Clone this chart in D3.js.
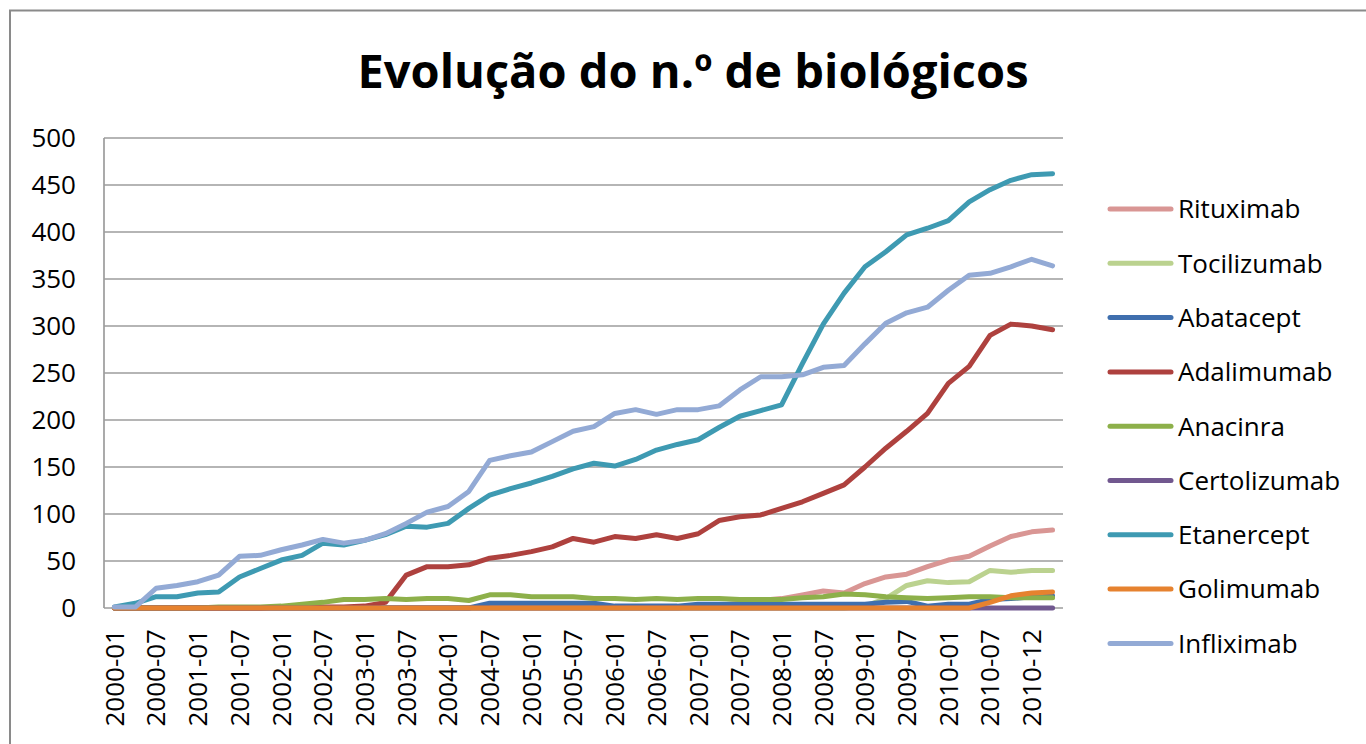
<!DOCTYPE html>
<meta charset="utf-8">
<style>
body { margin: 0; background: #fff; }
text { font-family: "Open Sans", sans-serif; fill: #000; }
.grid line { stroke: #9c9c9c; stroke-width: 1.7; }
.serie { fill: none; stroke-width: 5; stroke-linejoin: round; stroke-linecap: round; }
</style>
<body>
<script src="https://cdn.jsdelivr.net/npm/d3@7/dist/d3.min.js"></script>
<script>
// quarterly categories (last ones irregular)
var categories = ["2000-01","2000-04","2000-07","2000-10","2001-01","2001-04","2001-07","2001-10",
  "2002-01","2002-04","2002-07","2002-10","2003-01","2003-04","2003-07","2003-10",
  "2004-01","2004-04","2004-07","2004-10","2005-01","2005-04","2005-07","2005-10",
  "2006-01","2006-04","2006-07","2006-10","2007-01","2007-04","2007-07","2007-10",
  "2008-01","2008-04","2008-07","2008-10","2009-01","2009-04","2009-07","2009-10",
  "2010-01","2010-04","2010-07","2010-10","2010-12","2011-03"];

var names = ["Rituximab","Tocilizumab","Abatacept","Adalimumab","Anacinra","Certolizumab","Etanercept","Golimumab","Infliximab"];
var colors = ["#D99694","#BBD28F","#3F6FAE","#AE413E","#8DB04A","#71588F","#3E9AB2","#E6822F","#93AAD5"];

var rituximab = [0,0,0,0,0,0,0,0,0,0,0,0,0,0,0,0,0,0,0,0,0,0,0,0,0,0,0,0,2,3,5,8,10,14,18,16,26,33,36,44,51,55,66,76,81,83];
var tocilizumab = [0,0,0,0,0,0,0,0,0,0,0,0,0,0,0,0,0,0,0,0,0,0,0,0,0,0,0,0,0,0,0,0,0,0,0,0,2,10,24,29,27,28,40,38,40,40];
var abatacept = [0,0,0,0,0,0,0,0,0,0,0,0,0,0,0,0,0,0,5,5,5,5,5,5,2,2,2,2,4,4,4,4,4,4,4,4,4,6,7,2,4,4,9,10,12,13];
var adalimumab = [0,0,0,0,0,0,0,0,1,1,1,1,2,6,35,44,44,46,53,56,60,65,74,70,76,74,78,74,79,93,97,99,106,113,122,131,150,170,188,207,239,257,290,302,300,296];
var anacinra = [0,0,0,0,0,1,1,1,2,4,6,9,9,10,9,10,10,8,14,14,12,12,12,10,10,9,10,9,10,10,9,9,9,11,12,15,14,12,11,10,11,12,12,11,11,11];
var certolizumab = [0,0,0,0,0,0,0,0,0,0,0,0,0,0,0,0,0,0,0,0,0,0,0,0,0,0,0,0,0,0,0,0,0,0,0,0,0,0,0,0,0,0,0,0,0,0];
var etanercept = [1,5,12,12,16,17,33,42,51,56,69,67,72,78,87,86,90,106,120,127,133,140,148,154,151,158,168,174,179,192,204,210,216,260,302,335,363,379,397,404,412,432,445,455,461,462];
var golimumab = [0,0,0,0,0,0,0,0,0,0,0,0,0,0,0,0,0,0,0,0,0,0,0,0,0,0,0,0,0,0,0,0,0,0,0,0,0,0,0,0,0,0,6,13,16,17];
var infliximab = [1,1,21,24,28,35,55,56,62,67,73,69,72,79,90,102,108,124,157,162,166,177,188,193,207,211,206,211,211,215,232,246,246,248,256,258,281,303,314,320,338,354,356,363,371,364];

var yTicks = [0,50,100,150,200,250,300,350,400,450,500];

var series = [rituximab,tocilizumab,abatacept,adalimumab,anacinra,certolizumab,etanercept,golimumab,infliximab];

var w = 1366, h = 744;
var svg = d3.select("body").append("svg").attr("width", w).attr("height", h);

// outer chart frame
svg.append("path")
    .attr("d", "M10,744 L10,10.5 L1366,10.5")
    .attr("fill", "none")
    .attr("stroke", "#8a8a8a")
    .attr("stroke-width", 2);

svg.append("text")
    .attr("x", 693)
    .attr("y", 88)
    .attr("text-anchor", "middle")
    .attr("font-size", 47)
    .attr("font-weight", "bold")
    .attr("textLength", 671)
    .attr("lengthAdjust", "spacingAndGlyphs")
    .text("Evolução do n.º de biológicos");

var plotLeft = 104, plotRight = 1063, plotTop = 138, plotBottom = 608;

var x = d3.scalePoint().domain(categories).range([plotLeft, plotRight]).padding(0.5),
    y = d3.scaleLinear().domain([0, 500]).range([plotBottom, plotTop]);

// gridlines
svg.append("g")
    .attr("class", "grid")
    .selectAll("line")
    .data(yTicks)
    .enter().append("line")
      .attr("x1", plotLeft)
      .attr("x2", plotRight)
      .attr("y1", function(d) { return y(d); })
      .attr("y2", function(d) { return y(d); });

svg.append("line")
    .attr("x1", plotLeft).attr("x2", plotLeft)
    .attr("y1", plotTop).attr("y2", plotBottom)
    .attr("stroke", "#9c9c9c").attr("stroke-width", 1.7);

// y axis labels
svg.append("g")
    .selectAll("text")
    .data(yTicks)
    .enter().append("text")
      .attr("x", 76)
      .attr("y", function(d) { return y(d); })
      .attr("dy", "0.36em")
      .attr("text-anchor", "end")
      .attr("font-size", 26)
      .text(function(d) { return d; });

// x axis labels, every second category
svg.append("g")
    .selectAll("text")
    .data(categories.filter(function(d, i) { return i % 2 == 0; }))
    .enter().append("text")
      .attr("transform", function(d) { return "translate(" + x(d) + ",629) rotate(-90)"; })
      .attr("dy", "0.36em")
      .attr("text-anchor", "end")
      .attr("font-size", 26)
      .text(function(d) { return d; });

var line = d3.line()
    .x(function(d, i) { return x(categories[i]); })
    .y(function(d) { return y(d); });

svg.append("g")
    .selectAll("path")
    .data(series)
    .enter().append("path")
      .attr("class", "serie")
      .attr("stroke", function(d, i) { return colors[i]; })
      .attr("d", line);

// legend
var legend = svg.append("g")
    .selectAll("g")
    .data(names)
    .enter().append("g")
      .attr("transform", function(d, i) { return "translate(0," + (209 + i * 54.3) + ")"; });

legend.append("line")
    .attr("x1", 1110).attr("x2", 1171)
    .attr("y1", 0).attr("y2", 0)
    .attr("stroke", function(d, i) { return colors[i]; })
    .attr("stroke-width", 5)
    .attr("stroke-linecap", "round");

legend.append("text")
    .attr("x", 1178)
    .attr("dy", "0.36em")
    .attr("font-size", 26)
    .text(function(d) { return d; });
</script>
</body>
